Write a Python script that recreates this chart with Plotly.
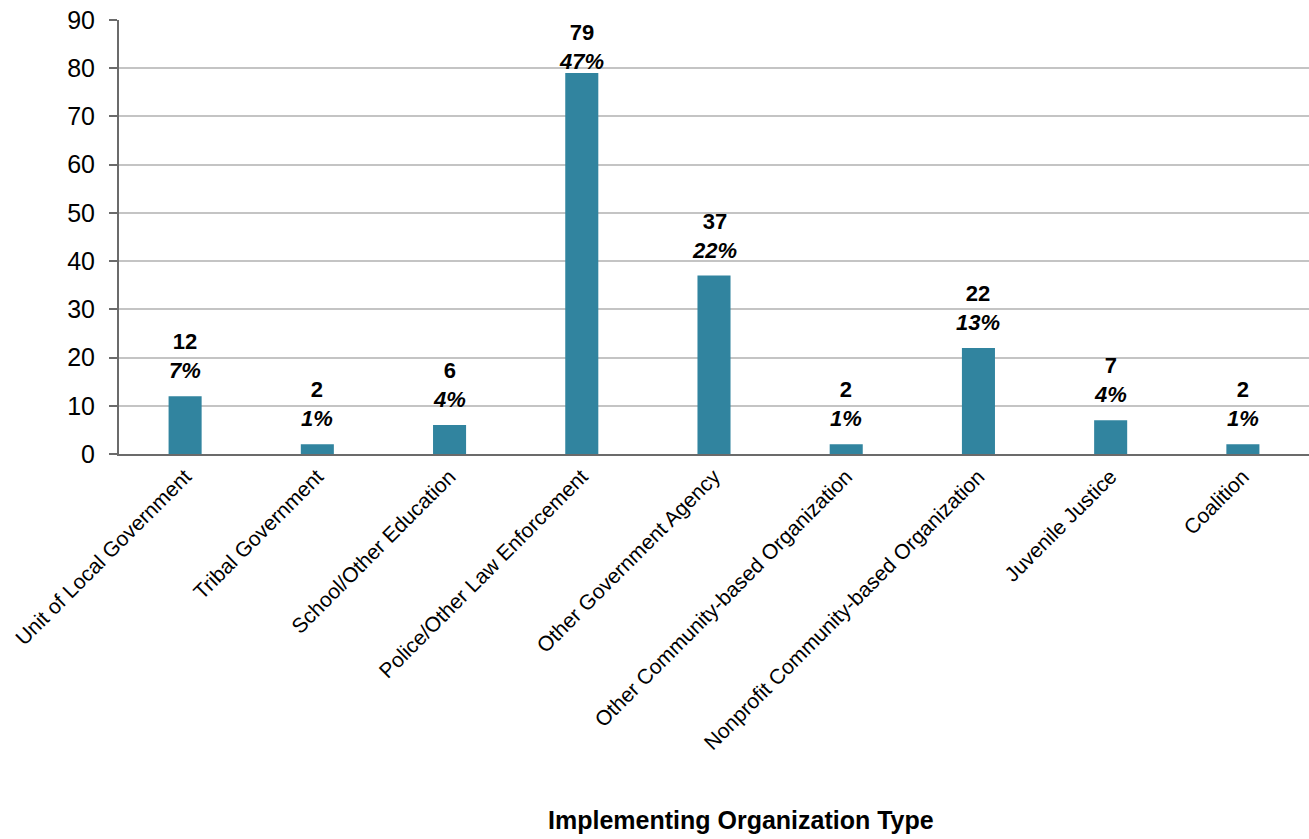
import plotly.graph_objects as go

categories = ["Unit of Local Government", "Tribal Government", "School/Other Education",
              "Police/Other Law Enforcement", "Other Government Agency",
              "Other Community-based Organization", "Nonprofit Community-based Organization",
              "Juvenile Justice", "Coalition"]
counts = [12, 2, 6, 79, 37, 2, 22, 7, 2]
percents = ["7%", "1%", "4%", "47%", "22%", "1%", "13%", "4%", "1%"]
y_ticks = [0, 10, 20, 30, 40, 50, 60, 70, 80, 90]

BAR = "#31849F"
FONT = "Liberation Sans, Arial, sans-serif"
fig = go.Figure()
fig.add_trace(go.Bar(x=categories, y=counts, marker=dict(color=BAR, line=dict(width=0)),
                     width=0.25, hoverinfo="skip"))

vmax = max(counts)
for c, v, p in zip(categories, counts, percents):
    # labels that would overflow the chart top are pushed down (as in the source chart)
    shift = -3 if v == vmax else 11
    fig.add_annotation(x=c, y=v, xref="x", yref="y", yanchor="bottom", yshift=shift,
                       text=f"<b>{v}</b><br><b><i>{p}</i></b>", showarrow=False,
                       font=dict(family=FONT, size=22, color="#000000"))

fig.add_annotation(x=0.5227, y=-0.843, xref="paper", yref="paper", yanchor="middle",
                   text="<b>Implementing Organization Type</b>", showarrow=False,
                   font=dict(family=FONT, size=25, color="#000000"))

fig.update_layout(
    width=1309, height=839,
    margin=dict(l=119, r=0, t=20, b=385),
    plot_bgcolor="white", paper_bgcolor="white",
    showlegend=False,
    font=dict(family=FONT, color="#000000"),
)
fig.update_xaxes(showline=True, linecolor="#6b6b6b", linewidth=2, ticks="",
                 tickangle=-45, tickfont=dict(size=21, color="#000000"),
                 showgrid=False, range=[-0.5, 8.5])
fig.update_yaxes(range=[0, 90], tickvals=y_ticks, showline=True, linecolor="#6b6b6b", linewidth=2,
                 ticks="outside", ticklen=8, tickcolor="#6b6b6b", tickwidth=2,
                 ticklabelstandoff=9,
                 showgrid=True, gridcolor="#c4c4c4", gridwidth=2, zeroline=False,
                 tickfont=dict(size=25, color="#000000"))

fig.write_html("out.html")
